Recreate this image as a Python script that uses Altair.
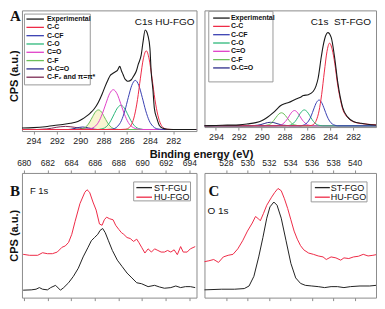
import altair as alt
import pandas as pd

FONT = "Liberation Sans"
SERIF = "Liberation Serif"
GRAY = "#8c8c8c"

# ---------------- Panel A : C1s HU-FGO ----------------
A_EXP_ev = [295.0, 294.0, 293.0, 292.25, 291.5, 290.83, 290.2, 289.84, 289.45, 289.13, 288.8, 288.43, 288.1,
            287.86, 287.6, 287.43, 287.2, 287.0, 286.8, 286.59, 286.44, 286.3, 286.16, 286.0, 285.88, 285.6,
            285.4, 285.17, 285.0, 284.75, 284.6, 284.41, 284.3, 284.18, 284.0, 283.9, 283.75, 283.62, 283.4,
            283.19, 282.9, 282.5, 281.5, 280.0]
A_EXP_v = [5, 6, 9, 13, 16, 20, 26, 33, 43, 53, 66, 88, 115, 138, 160, 173, 180, 185, 190, 203, 188, 176, 163,
           157, 155, 160, 172, 188, 210, 240, 280, 320, 316, 303, 260, 188, 130, 68, 35, 13, 4, 1, 0, 0]
A_CC_ev = [295.0, 286.5, 286.07, 285.82, 285.57, 285.32, 285.07, 284.82, 284.57, 284.32, 284.07, 283.82,
           283.57, 283.32, 283.07, 282.82, 282.57, 282.2, 280.0]
A_CC_v = [0, 0, 1, 5, 17, 46, 96, 165, 227, 253, 227, 165, 96, 46, 17, 5, 1, 0, 0]
A_CCF_ev = [295.0, 287.7, 287.36, 287.06, 286.76, 286.46, 286.16, 285.86, 285.56, 285.26, 284.96, 284.66,
            284.36, 284.06, 283.76, 283.46, 283.16, 282.8, 280.0]
A_CCF_v = [0, 0, 1, 3, 11, 28, 60, 103, 142, 158, 142, 103, 60, 28, 11, 3, 1, 0, 0]
A_CO_ev = [295.0, 288.46, 288.18, 287.9, 287.62, 287.34, 287.06, 286.78, 286.5, 286.22, 285.94, 285.66,
           285.38, 285.1, 284.82, 284.54, 280.0]
A_CO_v = [0, 0, 2, 5, 14, 30, 51, 70, 78, 70, 51, 30, 14, 5, 2, 0, 0]
A_CdO_ev = [295.0, 289.7, 289.39, 289.07, 288.75, 288.43, 288.11, 287.79, 287.47, 287.15, 286.83, 286.51,
            286.19, 285.87, 285.55, 285.23, 284.91, 284.6, 280.0]
A_CdO_v = [0, 0, 1, 3, 9, 23, 49, 83, 115, 128, 115, 83, 49, 23, 9, 3, 1, 0, 0]
A_CF_ev = [295.0, 290.18, 289.93, 289.68, 289.43, 289.18, 288.93, 288.68, 288.43, 288.18, 287.93, 287.68,
           287.43, 287.18, 286.93, 286.68, 280.0]
A_CF_v = [0, 0, 1, 4, 11, 24, 41, 57, 63, 57, 41, 24, 11, 4, 1, 0, 0]
A_OCO_ev = [295.0, 291.03, 290.78, 290.53, 290.28, 290.03, 289.78, 289.53, 289.28, 289.03, 288.78, 288.53, 280.0]
A_OCO_v = [0, 0, 1, 3, 5, 7, 8, 7, 5, 3, 1, 0, 0]
A_CF2_ev = [295.0, 293.66, 293.26, 292.86, 292.46, 292.06, 291.66, 291.26, 290.86, 290.46, 290.06, 289.66,
            289.26, 288.86, 280.0]
A_CF2_v = [0, 0, 1, 2, 4, 7, 9, 10, 9, 7, 4, 2, 1, 0, 0]

# ---------------- Panel ST : C1s ST-FGO ----------------
ST_EXP_ev = [295.1, 294.0, 293.0, 291.94, 291.2, 290.51, 290.0, 289.65, 289.3, 288.93, 288.6, 288.36, 287.93,
             287.64, 287.07, 286.6, 286.35, 285.92, 285.5, 285.25, 285.07, 284.78, 284.64, 284.49, 284.21,
             283.92, 283.63, 283.35, 282.92, 282.49, 281.92, 281.3, 280.77, 279.77]
ST_EXP_v = [0, 1, 2, 3, 6, 10, 16, 23, 32, 43, 55, 63, 70, 73, 83, 90, 95, 98, 108, 125, 148, 218, 248, 273,
            293, 278, 218, 138, 58, 28, 13, 8, 5, 2]
ST_CC_ev = [295.0, 285.9, 285.67, 285.44, 285.21, 284.98, 284.75, 284.52, 284.29, 284.06, 283.83, 283.6,
            283.35, 283.1, 282.92, 282.7, 282.49, 282.2, 281.92, 281.3, 280.77, 280.0]
ST_CC_v = [0, 0, 1, 5, 18, 47, 99, 169, 233, 260, 240, 195, 128, 80, 53, 36, 26, 17, 12, 7, 5, 3]
ST_CCF_ev = [295.0, 286.59, 286.36, 286.13, 285.9, 285.67, 285.44, 285.21, 284.98, 284.75, 284.52, 284.29,
             284.06, 283.83, 283.6, 283.37, 280.0]
ST_CCF_v = [0, 0, 2, 6, 15, 31, 53, 73, 81, 73, 53, 31, 15, 6, 2, 0, 0]
ST_CO_ev = [295.0, 287.88, 287.65, 287.42, 287.19, 286.96, 286.73, 286.5, 286.27, 286.04, 285.81, 285.58,
            285.35, 285.12, 284.89, 284.66, 280.0]
ST_CO_v = [0, 0, 1, 3, 9, 19, 33, 45, 50, 45, 33, 19, 9, 3, 1, 0, 0]
ST_CdO_ev = [295.0, 288.74, 288.51, 288.28, 288.05, 287.82, 287.59, 287.36, 287.13, 286.9, 286.67, 286.44,
             286.21, 285.98, 285.75, 285.52, 280.0]
ST_CdO_v = [0, 0, 1, 3, 9, 18, 31, 43, 48, 43, 31, 18, 9, 3, 1, 0, 0]
ST_CF_ev = [295.0, 289.88, 289.65, 289.42, 289.19, 288.96, 288.73, 288.5, 288.27, 288.04, 287.81, 287.58,
            287.35, 287.12, 286.89, 286.66, 280.0]
ST_CF_v = [0, 0, 1, 3, 7, 16, 27, 37, 41, 37, 27, 16, 7, 3, 1, 0, 0]
ST_OCO_ev = [295.0, 290.9, 290.62, 290.34, 290.06, 289.78, 289.5, 289.22, 288.94, 288.66, 288.38, 288.1,
             287.82, 287.54, 280.0]
ST_OCO_v = [0, 0, 1, 2, 4, 7, 10, 11, 10, 7, 4, 2, 1, 0, 0]

# ---------------- Panel B : F 1s ----------------
B_HU_ev = [679.95, 680.49, 681.18, 681.59, 682.0, 682.42, 682.83, 683.24, 683.51, 683.79, 684.06, 684.34,
           684.75, 685.16, 685.35, 685.57, 685.85, 686.12, 686.4, 686.62, 686.81, 687.0, 687.27, 687.55,
           687.77, 688.04, 688.26, 688.45, 688.73, 689.0, 689.28, 689.55, 689.74, 689.96, 690.24, 690.51,
           690.79, 691.06, 691.34, 691.61, 691.89, 692.16, 692.43, 692.71, 692.98, 693.26, 693.48, 693.81,
           694.08, 694.49]
B_HU_v = [148, 145, 145, 153, 150, 150, 155, 170, 174, 185, 210, 250, 305, 340, 348, 340, 310, 285, 242,
          238, 255, 263, 258, 255, 238, 225, 215, 210, 200, 197, 188, 195, 184, 170, 152, 165, 155, 165,
          160, 155, 155, 160, 155, 162, 147, 172, 155, 155, 165, 172]
B_ST_ev = [679.95, 680.63, 681.04, 681.32, 681.59, 682.0, 682.28, 682.69, 683.1, 683.38, 683.79, 684.2,
           684.61, 685.02, 685.44, 685.71, 685.98, 686.26, 686.45, 686.67, 686.89, 687.16, 687.49, 687.91,
           688.32, 688.73, 689.14, 689.55, 689.96, 690.51, 691.06, 691.47, 691.89, 692.43, 692.85, 693.26,
           693.67, 694.08, 694.49]
B_ST_v = [37, 38, 40, 45, 40, 38, 45, 52, 37, 45, 60, 80, 105, 140, 170, 190, 200, 210, 222, 228, 215, 190,
          160, 130, 110, 90, 75, 60, 57, 48, 52, 47, 43, 45, 50, 45, 48, 48, 45]

# ---------------- Panel C : O 1s ----------------
C_HU_ev = [525.96, 526.41, 526.86, 527.31, 527.76, 528.21, 528.66, 529.11, 529.56, 530.01, 530.46, 530.76,
           530.97, 531.21, 531.51, 531.81, 532.26, 532.56, 532.86, 533.16, 533.46, 533.76, 534.06, 534.36,
           534.66, 534.96, 535.26, 535.71, 536.16, 536.61, 537.06, 537.36, 537.81, 538.26, 538.71, 539.01,
           539.46, 539.91, 540.36, 540.81, 541.26, 541.71, 542.01]
C_HU_v = [125, 128, 132, 123, 140, 145, 148, 165, 190, 220, 245, 265, 260, 252, 275, 300, 325, 340, 352, 345,
          320, 290, 255, 220, 195, 175, 162, 152, 148, 143, 140, 132, 140, 137, 130, 137, 135, 140, 142, 148,
          143, 145, 147]
C_ST_ev = [525.96, 527.61, 528.81, 529.71, 530.16, 530.61, 531.06, 531.45, 531.81, 532.11, 532.47, 532.77,
           533.16, 533.61, 534.06, 534.51, 534.96, 535.41, 536.01, 536.61, 537.21, 537.81, 538.41, 539.01,
           539.61, 540.51, 541.41, 542.01]
C_ST_v = [38, 40, 40, 42, 50, 80, 140, 200, 260, 295, 310, 300, 260, 190, 120, 75, 58, 52, 50, 48, 45, 48, 48,
          45, 48, 50, 50, 52]

A_NAMES = ["Experimental", "C-C", "C-CF", "C-O", "C=O", "C-F", "O-C=O", "C-F\u2082 and \u03c0=\u03c0*"]
A_COLORS = ["#1a1a1a", "#ee2b47", "#3a40b2", "#2db87a", "#e040c8", "#6cbf5a", "#2d2d8a", "#7d2d55"]
ST_NAMES = A_NAMES[:7]
ST_COLORS = A_COLORS[:7]
B_NAMES = ["ST-FGU", "HU-FGO"]
C_NAMES = ["ST-FGO", "HU-FGO"]
BC_COLORS = ["#222222", "#ee2b47"]

TOP_TICKS = [294, 292, 290, 288, 286, 284, 282]
B_TICKS = [680, 682, 684, 686, 688, 690, 692, 694]
C_TICKS = [528, 530, 532, 534, 536, 538, 540]

ONE = pd.DataFrame({"k": [0]})


def long_df(pairs):
    rows = []
    for name, evs, vs in pairs:
        for e, v in zip(evs, vs):
            rows.append({"series": name, "ev": e, "v": v})
    return pd.DataFrame(rows)


def txt(text, x, y, size, weight="normal", font=FONT, align="left", baseline="alphabetic", angle=None):
    kw = dict(text=text, fontSize=size, fontWeight=weight, font=font, align=align,
              baseline=baseline, color="#111111")
    if angle is not None:
        kw["angle"] = angle
    return alt.Chart(ONE).mark_text(**kw).encode(x=alt.value(x), y=alt.value(y))


def legend_layers(names, colors, box, line_x, text_x, row_y, size, weight):
    ldf = pd.DataFrame({"name": names, "row": list(range(len(names)))})
    cs = alt.Scale(domain=names, range=colors)
    ys = alt.Scale(domain=[0, len(names) - 1], range=[row_y[0], row_y[1]], nice=False, zero=False)
    boxl = alt.Chart(ONE).mark_rect(fill="white", stroke="#9a9a9a", strokeWidth=1).encode(
        x=alt.value(box[0]), x2=alt.value(box[2]), y=alt.value(box[1]), y2=alt.value(box[3]))
    rules = alt.Chart(ldf).mark_rule(strokeWidth=1.3).encode(
        x=alt.value(line_x[0]), x2=alt.value(line_x[1]),
        y=alt.Y("row:Q", scale=ys, axis=None),
        color=alt.Color("name:N", scale=cs, legend=None))
    labels = alt.Chart(ldf).mark_text(align="left", baseline="middle", font=FONT, fontSize=size,
                                      fontWeight=weight, color="#111111").encode(
        x=alt.value(text_x), y=alt.Y("row:Q", scale=ys, axis=None), text="name:N")
    return [boxl, rules, labels]


def axis(orient, values, labels=True, size=9):
    return alt.Axis(orient=orient, values=values, title=None, domain=False, grid=False, ticks=True,
                    tickSize=3, tickColor=GRAY, labels=labels, labelFontSize=size, labelColor="#222222",
                    labelFont=FONT, labelPadding=2, labelFlush=False)


TOP_AXIS = axis("bottom", TOP_TICKS)

# ---------- Panel A ----------
AW, AH = 175, 121
xs_top = alt.Scale(domain=[280, 295], reverse=True, nice=False, zero=False)
ys_A = alt.Scale(domain=[-5, 383], nice=False, zero=False)
csA = alt.Scale(domain=A_NAMES, range=A_COLORS)
dfA = long_df([(A_NAMES[7], A_CF2_ev, A_CF2_v), (A_NAMES[6], A_OCO_ev, A_OCO_v), (A_NAMES[5], A_CF_ev, A_CF_v),
               (A_NAMES[3], A_CO_ev, A_CO_v), (A_NAMES[4], A_CdO_ev, A_CdO_v), (A_NAMES[2], A_CCF_ev, A_CCF_v),
               (A_NAMES[1], A_CC_ev, A_CC_v)])
dfA_exp = long_df([(A_NAMES[0], A_EXP_ev, A_EXP_v)])
dfA_fill = long_df([(A_NAMES[5], A_CF_ev, A_CF_v)])

A_fill = alt.Chart(dfA_fill).mark_area(color="#f6f1bd", opacity=0.7, interpolate="monotone", clip=True).encode(
    x=alt.X("ev:Q", scale=xs_top, axis=TOP_AXIS), y=alt.Y("v:Q", scale=ys_A, axis=None), y2=alt.datum(0))
A_comp = alt.Chart(dfA).mark_line(strokeWidth=1, interpolate="monotone", clip=True).encode(
    x=alt.X("ev:Q", scale=xs_top, axis=TOP_AXIS),
    y=alt.Y("v:Q", scale=ys_A, axis=None),
    color=alt.Color("series:N", scale=csA, legend=None))
A_exp = alt.Chart(dfA_exp).mark_line(strokeWidth=1.1, interpolate="monotone", clip=True).encode(
    x=alt.X("ev:Q", scale=xs_top, axis=TOP_AXIS),
    y=alt.Y("v:Q", scale=ys_A, axis=None),
    color=alt.Color("series:N", scale=csA, legend=None))

panelA = alt.layer(
    A_fill, A_comp, A_exp,
    *legend_layers(A_NAMES, A_COLORS, (2.5, 3.7, 68.5, 74.7), (4.5, 22), 25, (8.7, 67), 7, "bold"),
    txt("A", -12, 11, 15, "bold", SERIF),
    txt("C1s HU-FGO", AW - 2, 15, 10, align="right"),
    txt("CPS (a.u.)", -7, 66, 11, "bold", align="center", baseline="middle", angle=270),
    txt("Binding energy (eV)", 180, 145, 11, "bold", align="center", baseline="middle"),
).resolve_scale(y="independent").properties(width=AW, height=AH)

# ---------- Panel ST ----------
SW, SH = 172, 117
ys_S = alt.Scale(domain=[-4, 363], nice=False, zero=False)
csS = alt.Scale(domain=ST_NAMES, range=ST_COLORS)
dfS = long_df([(ST_NAMES[6], ST_OCO_ev, ST_OCO_v), (ST_NAMES[5], ST_CF_ev, ST_CF_v),
               (ST_NAMES[4], ST_CdO_ev, ST_CdO_v), (ST_NAMES[3], ST_CO_ev, ST_CO_v),
               (ST_NAMES[2], ST_CCF_ev, ST_CCF_v), (ST_NAMES[1], ST_CC_ev, ST_CC_v)])
dfS_exp = long_df([(ST_NAMES[0], ST_EXP_ev, ST_EXP_v)])

S_comp = alt.Chart(dfS).mark_line(strokeWidth=1, interpolate="monotone", clip=True).encode(
    x=alt.X("ev:Q", scale=xs_top, axis=TOP_AXIS),
    y=alt.Y("v:Q", scale=ys_S, axis=None),
    color=alt.Color("series:N", scale=csS, legend=None))
S_exp = alt.Chart(dfS_exp).mark_line(strokeWidth=1.1, interpolate="monotone", clip=True).encode(
    x=alt.X("ev:Q", scale=xs_top, axis=TOP_AXIS),
    y=alt.Y("v:Q", scale=ys_S, axis=None),
    color=alt.Color("series:N", scale=csS, legend=None))

panelS = alt.layer(
    S_comp, S_exp,
    *legend_layers(ST_NAMES, ST_COLORS, (4.3, 1, 68.7, 71.7), (8.7, 25.3), 26.5, (7.7, 57.7), 7, "bold"),
    txt("C1s\u00a0 ST-FGO", SW - 5, 14.5, 10, align="right"),
).resolve_scale(y="independent").properties(width=SW, height=SH)

# ---------- Panel B ----------
BW, BH = 175, 125
xs_B = alt.Scale(domain=[679.85, 694.6], nice=False, zero=False)
ys_BC = alt.Scale(domain=[14, 400], nice=False, zero=False)
csB = alt.Scale(domain=B_NAMES, range=BC_COLORS)
dfB_hu = long_df([(B_NAMES[1], B_HU_ev, B_HU_v)])
dfB_st = long_df([(B_NAMES[0], B_ST_ev, B_ST_v)])
B_hu = alt.Chart(dfB_hu).mark_line(strokeWidth=1, clip=True).encode(
    x=alt.X("ev:Q", scale=xs_B, axis=axis("top", B_TICKS, size=8.5)),
    y=alt.Y("v:Q", scale=ys_BC, axis=None),
    color=alt.Color("series:N", scale=csB, legend=None))
B_st = alt.Chart(dfB_st).mark_line(strokeWidth=1, clip=True).encode(
    x=alt.X("ev:Q", scale=xs_B, axis=axis("bottom", B_TICKS, labels=False)),
    y=alt.Y("v:Q", scale=ys_BC, axis=None),
    color=alt.Color("series:N", scale=csB, legend=None))
panelB = alt.layer(
    B_hu, B_st,
    *legend_layers(B_NAMES, BC_COLORS, (112, 9, 169, 28), (114.7, 130.4), 132.5, (14.7, 24.3), 9, "normal"),
    txt("B", -12, 23.5, 15, "bold", SERIF),
    txt("F 1s", 8, 21, 9.5),
    txt("CPS (a.u.)", -7, 63, 11, "bold", align="center", baseline="middle", angle=270),
).resolve_scale(y="independent").properties(width=BW, height=BH)

# ---------- Panel C ----------
CW, CH = 172, 125
xs_C = alt.Scale(domain=[526, 542], nice=False, zero=False)
csC = alt.Scale(domain=C_NAMES, range=BC_COLORS)
dfC_hu = long_df([(C_NAMES[1], C_HU_ev, C_HU_v)])
dfC_st = long_df([(C_NAMES[0], C_ST_ev, C_ST_v)])
C_hu = alt.Chart(dfC_hu).mark_line(strokeWidth=1, clip=True).encode(
    x=alt.X("ev:Q", scale=xs_C, axis=axis("top", C_TICKS, size=8.5)),
    y=alt.Y("v:Q", scale=ys_BC, axis=None),
    color=alt.Color("series:N", scale=csC, legend=None))
C_st = alt.Chart(dfC_st).mark_line(strokeWidth=1, clip=True).encode(
    x=alt.X("ev:Q", scale=xs_C, axis=axis("bottom", C_TICKS, labels=False)),
    y=alt.Y("v:Q", scale=ys_BC, axis=None),
    color=alt.Color("series:N", scale=csC, legend=None))
panelC = alt.layer(
    C_hu, C_st,
    *legend_layers(C_NAMES, BC_COLORS, (107, 9, 163, 29), (110.7, 125.7), 126.7, (14.7, 24.3), 9, "normal"),
    txt("C", 4, 23.5, 15, "bold", SERIF),
    txt("O 1s", 3, 41, 10),
).resolve_scale(y="independent").properties(width=CW, height=CH)

chart = alt.concat(
    panelA, panelS, panelB, panelC, columns=2, spacing={"row": 42, "column": 8}, bounds="flush"
).resolve_scale(color="independent", x="independent", y="independent").properties(
    padding=0, background="white"
).configure_view(stroke=GRAY, strokeWidth=1)

chart.save("out.html", embed_options={"renderer": "svg", "actions": False})
